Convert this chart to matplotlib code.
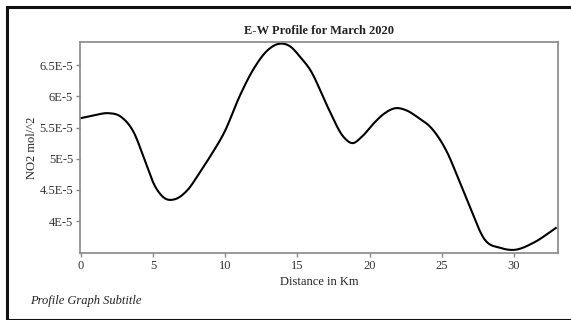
import numpy as np
import matplotlib

matplotlib.use("Agg")
import matplotlib.pyplot as plt
from matplotlib.patches import Rectangle

# profile values (km, NO2 mol/m^2)
distance_km = [0.0, 1.0, 1.9, 2.8, 3.7, 4.4, 5.1, 5.8, 6.5, 7.4, 8.3, 9.0,
               10.0, 11.0, 12.0, 13.0, 13.7, 14.5, 15.2, 15.9, 17.1, 18.2,
               18.8, 19.5, 20.3, 21.0, 21.8, 22.5, 23.3, 24.4, 25.4, 26.1,
               27.0, 27.9, 29.1, 30.0, 31.4, 32.9]
no2_values = [5.65, 5.70, 5.73, 5.67, 5.41, 5.00, 4.58, 4.37, 4.35, 4.50,
              4.80, 5.05, 5.45, 6.00, 6.45, 6.75, 6.84, 6.80, 6.63, 6.42,
              5.83, 5.35, 5.25, 5.36, 5.57, 5.72, 5.81, 5.78, 5.67, 5.46,
              5.09, 4.71, 4.20, 3.73, 3.57, 3.54, 3.66, 3.89]
no2_values = [v * 1e-5 for v in no2_values]

y_ticks = [4e-5, 4.5e-5, 5e-5, 5.5e-5, 6e-5, 6.5e-5]
y_tick_labels = ["4E-5", "4.5E-5", "5E-5", "5.5E-5", "6E-5", "6.5E-5"]
x_ticks = [0, 5, 10, 15, 20, 25, 30]

plt.rcParams["font.family"] = ["Liberation Serif", "DejaVu Serif"]

W, H = 571, 320
fig = plt.figure(figsize=(W / 100, H / 100), dpi=100)
fig.patch.set_facecolor("white")

# outer frame
fig.patches.append(Rectangle((7 / W, 0.5 / H), 1.2, (H - 7.5) / H,
                             transform=fig.transFigure, fill=False,
                             edgecolor="#111111", linewidth=2.2))

ax = fig.add_axes([80 / W, 1 - 253 / H, (558 - 80) / W, (253 - 42) / H])

# smooth curve through the read points (cubic Hermite)
x = np.array(distance_km)
y = np.array(no2_values)
d = np.gradient(y, x)
xs, ys = [], []
for i in range(len(x) - 1):
    h = x[i + 1] - x[i]
    t = np.linspace(0, 1, 20, endpoint=False)
    h00 = 2 * t**3 - 3 * t**2 + 1
    h10 = t**3 - 2 * t**2 + t
    h01 = -2 * t**3 + 3 * t**2
    h11 = t**3 - t**2
    xs.append(x[i] + t * h)
    ys.append(h00 * y[i] + h10 * h * d[i] + h01 * y[i + 1] + h11 * h * d[i + 1])
xs.append([x[-1]])
ys.append([y[-1]])
ax.plot(np.concatenate(xs), np.concatenate(ys), color="black", linewidth=1.5)

ax.set_xlim(-0.05, 33.05)
ax.set_ylim(3.49e-5, 6.87e-5)
ax.set_xticks(x_ticks)
ax.set_yticks(y_ticks)
ax.set_yticklabels(y_tick_labels)
for s in ax.spines.values():
    s.set_color("#888888")
    s.set_linewidth(1.2)
ax.tick_params(colors="#888888", labelcolor="#333333", labelsize=9,
               length=3, width=1, pad=2)

ax.set_xlabel("Distance in Km", fontsize=9, color="#222222", labelpad=3)
ax.set_ylabel("NO2 mol/^2", fontsize=9, color="#222222")
ax.yaxis.set_label_coords(-0.088, 0.50)
ax.set_title("E-W Profile for March 2020", fontsize=9, fontweight="bold",
             color="#222222", pad=6)

fig.text(30 / W, 1 - 301 / H, "Profile Graph Subtitle", fontsize=9,
         style="italic", color="#222222", va="center")

fig.savefig("out.png", dpi=100)
